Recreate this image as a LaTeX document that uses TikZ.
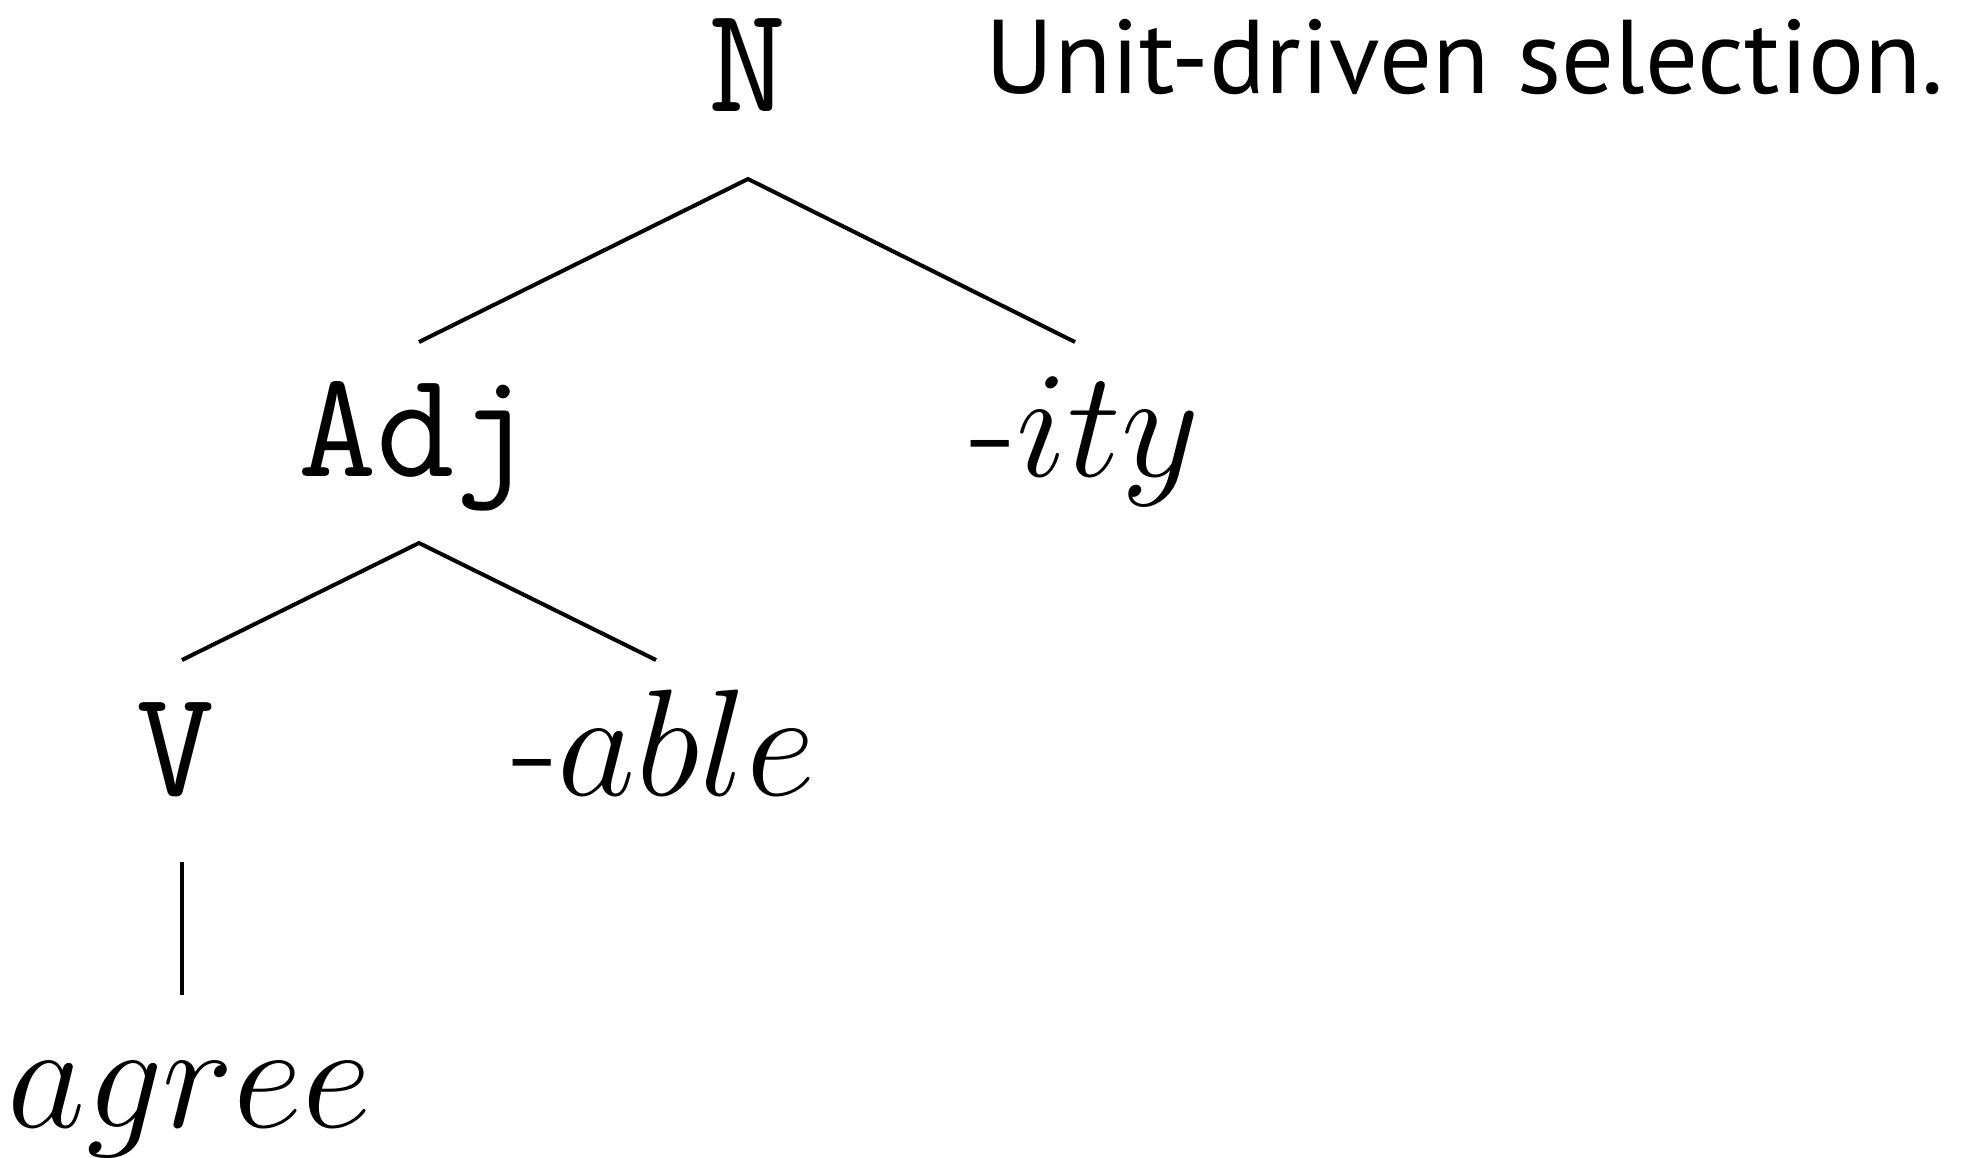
\RequirePackage{fix-cm}
\documentclass[tikz,border=0pt]{standalone}
\usepackage{fontspec}
\newfontfamily\titlefont{PT Sans}
\usetikzlibrary{calc}
\begin{document}
\begin{tikzpicture}[x=0.25pt,y=-0.25pt,
  lab/.style={inner sep=0pt,anchor=base,font=\fontsize{38}{42}\selectfont},
  tt/.style={inner sep=0pt,anchor=base,font=\fontsize{38}{42}\selectfont\ttfamily},
  edge/.style={line width=1pt}]
\useasboundingbox (0,0) rectangle (1979,1157);
\node[anchor=base west,inner sep=0pt,font=\fontsize{26.2}{30}\selectfont\titlefont] (title) at (985,93) {Unit-driven selection.};
\node[tt] (N) at (748,111) {N};
\node[tt] (Adj) at (416,476) {Adj};
\node[lab] (ity) at (1085,476) {$\textrm{-}ity$};
\node[tt] (V) at (176,795) {V};
\node[lab] (able) at (664,795) {$\textrm{-}able$};
\node[lab] (agree) at (190,1127) {$agree$};
\coordinate (Ntop) at ($(N.base)+(0,68)$);
\coordinate (Atop) at ($(Adj.base)+(3,67)$);
\draw[edge] ($(Adj.base)+(3,-134)$) -- (Ntop) -- ($(ity.base)+(-10,-134)$);
\draw[edge] ($(V.base)+(6,-135)$) -- (Atop) -- ($(able.base)+(-8,-135)$);
\draw[edge] ($(V.base)+(6,67)$) -- ($(agree.base)+(-8,-132)$);
\end{tikzpicture}
\end{document}
